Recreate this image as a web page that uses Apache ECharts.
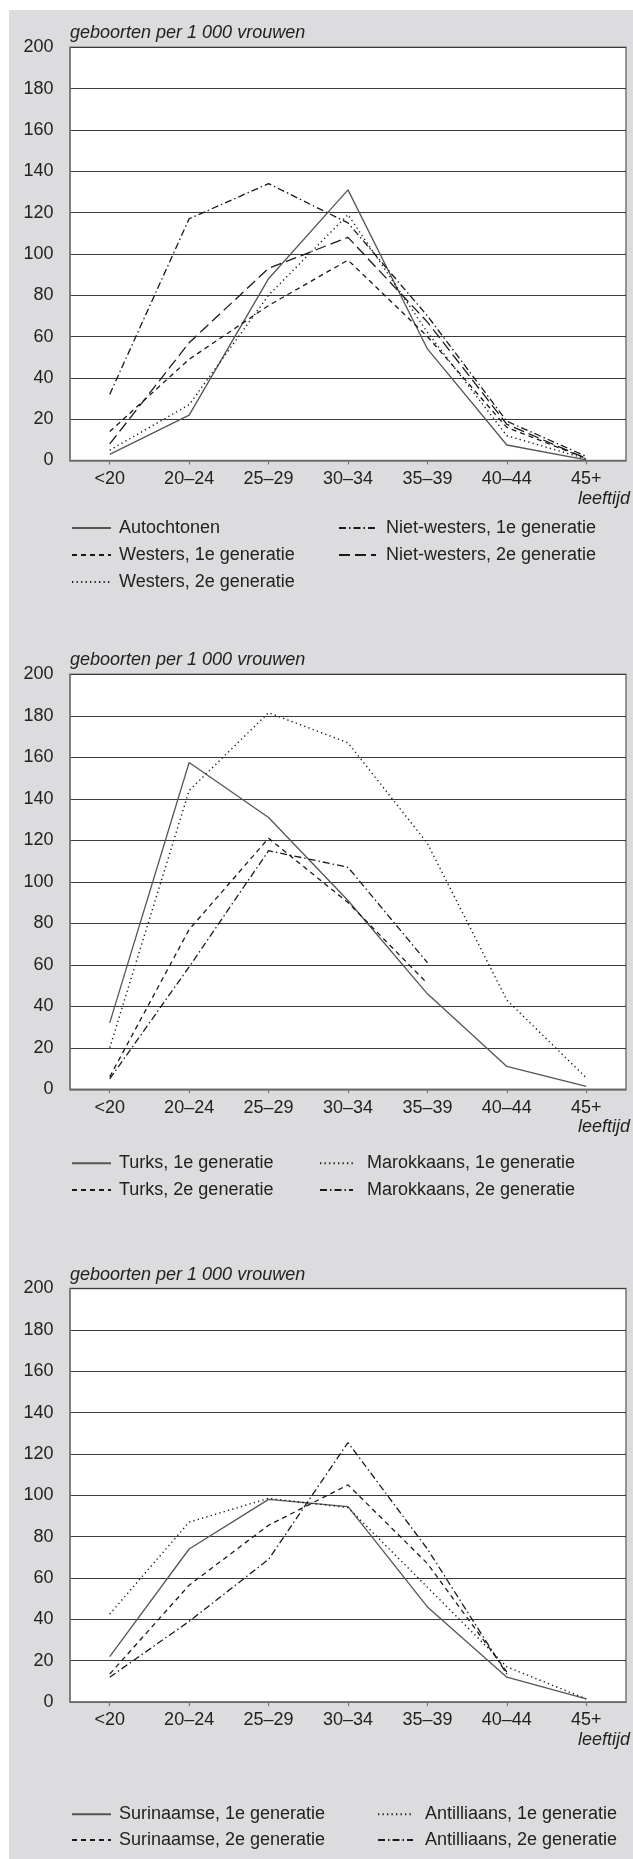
<!DOCTYPE html>
<html>
<head>
<meta charset="utf-8">
<script src="https://cdn.jsdelivr.net/npm/echarts@6/dist/echarts.min.js"></script>
<style>
  html, body { margin: 0; padding: 0; background: #ffffff; }
  #chart { width: 633px; height: 1859px; }
</style>
</head>
<body>
<div id="chart"></div>
<script>
// ---- data ----
const categories = ['<20', '20\u201324', '25\u201329', '30\u201334', '35\u201339', '40\u201344', '45+'];
const yTitle = 'geboorten per 1 000 vrouwen';
const xTitle = 'leeftijd';

// chart 1
const autochtonen       = [3, 22, 88, 131, 54, 7.5, 0.3];
const westers1          = [14, 49, 75, 97, 60, 16, 1];
const westers2          = [5, 27, 80, 119, 62, 12, 0.8];
const nietWesters1      = [32, 117, 134, 115, 70, 19, 2];
const nietWesters2      = [8, 57, 93, 108, 67, 17.5, 1];

// chart 2
const turks1            = [32, 157.5, 131, 91, 46, 11, 1.4];
const turks2            = [6, 77, 121, 90, 51];
const marokkaans1       = [20, 144, 181.5, 167, 118.5, 43, 5.5];
const marokkaans2       = [5, 59, 115, 107, 61];

// chart 3
const surinaamse1       = [22, 74, 98, 94.5, 46, 12, 1.5];
const surinaamse2       = [13.5, 56.5, 85.5, 105, 67, 14.5];
const antilliaans1      = [42.5, 87, 98.5, 94, 55.5, 17, 1.5];
const antilliaans2      = [12, 39, 69, 125.5, 74, 13.5];

// ---- styles ----
const FONT = '"Liberation Sans", Arial, Helvetica, sans-serif';
const TXT = '#222';
const FS = 18;
const STYLES = {
  solid:   { color: '#555', width: 1.3, type: 'solid' },
  dash:    { color: '#1a1a1a', width: 1.3, type: [5, 4] },
  longdash:{ color: '#1a1a1a', width: 1.3, type: [11, 5] },
  dot:     { color: '#1a1a1a', width: 1.4, type: [1.3, 3.2] },
  dashdot: { color: '#1a1a1a', width: 1.3, type: [7, 3, 1.5, 3] }
};

const grids = [
  { top: 47.3, height: 413.2 },
  { top: 674.3, height: 415 },
  { top: 1288.5, height: 413.5 }
];

const seriesDefs = [
  [ ['Autochtonen', autochtonen, 'solid'],
    ['Westers, 1e generatie', westers1, 'dash'],
    ['Westers, 2e generatie', westers2, 'dot'],
    ['Niet-westers, 1e generatie', nietWesters1, 'dashdot'],
    ['Niet-westers, 2e generatie', nietWesters2, 'longdash'] ],
  [ ['Turks, 1e generatie', turks1, 'solid'],
    ['Turks, 2e generatie', turks2, 'dash'],
    ['Marokkaans, 1e generatie', marokkaans1, 'dot'],
    ['Marokkaans, 2e generatie', marokkaans2, 'dashdot'] ],
  [ ['Surinaamse, 1e generatie', surinaamse1, 'solid'],
    ['Surinaamse, 2e generatie', surinaamse2, 'dash'],
    ['Antilliaans, 1e generatie', antilliaans1, 'dot'],
    ['Antilliaans, 2e generatie', antilliaans2, 'dashdot'] ]
];

const legendDefs = [
  { top: 518.5, gap: 8, cols: [
      { left: 71, w: 39, pad: 3, names: ['Autochtonen', 'Westers, 1e generatie', 'Westers, 2e generatie'] },
      { left: 338, w: 37, pad: 5, names: ['Niet-westers, 1e generatie', 'Niet-westers, 2e generatie'] } ] },
  { top: 1153.8, gap: 7.7, cols: [
      { left: 71, w: 39, pad: 3, names: ['Turks, 1e generatie', 'Turks, 2e generatie'] },
      { left: 319, w: 33, pad: 9, names: ['Marokkaans, 1e generatie', 'Marokkaans, 2e generatie'] } ] },
  { top: 1804.8, gap: 6.7, cols: [
      { left: 71, w: 39, pad: 3, names: ['Surinaamse, 1e generatie', 'Surinaamse, 2e generatie'] },
      { left: 377, w: 35, pad: 7, names: ['Antilliaans, 1e generatie', 'Antilliaans, 2e generatie'] } ] }
];

const option = {
  animation: false,
  backgroundColor: '#ffffff',
  textStyle: { fontFamily: FONT },
  graphic: { elements: [
    { type: 'rect', z: -100, silent: true, shape: { x: 9, y: 10, width: 624, height: 1849 }, style: { fill: '#dcdcde' } }
  ] },
  grid: grids.map(g => ({
    left: 70, right: 7, top: g.top, height: g.height,
    show: true, backgroundColor: '#ffffff', borderColor: '#777', borderWidth: 1.5
  })),
  xAxis: grids.map((g, i) => ({
    type: 'category', gridIndex: i, data: categories, boundaryGap: true,
    name: xTitle, nameLocation: 'end', nameGap: 4,
    nameTextStyle: { fontStyle: 'italic', fontSize: FS, color: TXT, fontFamily: FONT,
                     align: 'right', verticalAlign: 'top', padding: [29, 0, 0, 0] },
    axisLine: { show: true, lineStyle: { color: '#777', width: 1.5 } },
    axisTick: { show: true, alignWithLabel: true, length: 4, lineStyle: { color: '#777', width: 1.2 } },
    axisLabel: { fontSize: FS, color: TXT, fontFamily: FONT, margin: 9.5 },
    splitLine: { show: false }
  })),
  yAxis: grids.map((g, i) => ({
    type: 'value', gridIndex: i, min: 0, max: 200, interval: 20,
    name: yTitle, nameLocation: 'end', nameGap: 5,
    nameTextStyle: { fontStyle: 'italic', fontSize: FS, color: TXT, fontFamily: FONT,
                     align: 'left', verticalAlign: 'bottom' },
    axisLine: { show: true, lineStyle: { color: '#777', width: 1.5 } },
    axisTick: { show: false },
    axisLabel: { fontSize: FS, color: TXT, fontFamily: FONT, margin: 16.5 },
    splitLine: { show: true, lineStyle: { color: '#3a3a3a', width: 1 } }
  })),
  legend: [],
  series: []
};

seriesDefs.forEach((defs, gi) => {
  defs.forEach(([name, data, style]) => {
    option.series.push({
      type: 'line', name, data, xAxisIndex: gi, yAxisIndex: gi,
      symbol: 'none', showSymbol: false, smooth: false,
      lineStyle: Object.assign({}, STYLES[style]),
      itemStyle: { color: STYLES[style].color },
      emphasis: { disabled: true }
    });
  });
});

legendDefs.forEach(ld => {
  ld.cols.forEach(c => {
    option.legend.push({
      orient: 'vertical', left: c.left, top: ld.top, padding: 0,
      itemWidth: c.w, itemHeight: 14, itemGap: ld.gap, selectedMode: false,
      data: c.names,
      itemStyle: { opacity: 0 },
      textStyle: { fontSize: FS, color: TXT, fontFamily: FONT, lineHeight: 19, padding: [0, 0, 0, c.pad] }
    });
  });
});

const chart = echarts.init(document.getElementById('chart'), null, { renderer: 'canvas' });
chart.setOption(option);
</script>
</body>
</html>
